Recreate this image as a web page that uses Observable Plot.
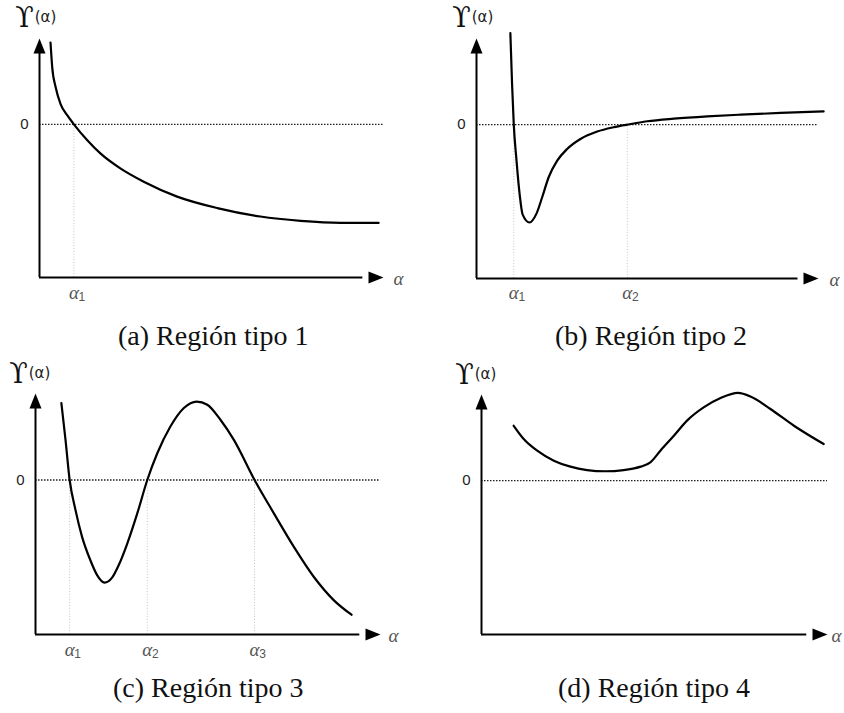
<!DOCTYPE html>
<html>
<head>
<meta charset="utf-8">
<script src="https://cdn.jsdelivr.net/npm/d3@7"></script>
<script src="https://cdn.jsdelivr.net/npm/@observablehq/plot@0.6"></script>
<style>
  body { margin: 0; background: #fff; }
  #fig { position: relative; width: 844px; height: 713px; overflow: hidden; background: #fff; }
  .panel { position: absolute; }
  .cap {
    position: absolute;
    font-family: "Liberation Serif", "Times New Roman", serif;
    font-size: 28px;
    line-height: 28px;
    color: #111;
    white-space: nowrap;
  }
</style>
</head>
<body>
<div id="fig"></div>
<script>
// Υ(α) sketches for the four region types. α runs 0–100 along each axis,
// Υ runs from −100 (the α axis) to 56 (top of the Υ axis).

// (a) Región tipo 1 — monotone decreasing, one root
const alphaA = [3.2, 3.7, 4.7, 6.1, 8.1, 10.0, 13.9, 17.7, 23.5, 30.3, 40.0, 51.7, 64.2, 75.9, 87.5, 98.6];
const upsilonA = [53.4, 37.2, 24.2, 13.4, 5.8, 0, -10.4, -19.0, -28.8, -37.5, -47.2, -54.7, -60.2, -63.0, -64.3, -64.3];
const rootsA = [10.0];
const subsA = ["1"];

// (b) Región tipo 2 — sharp dip, two roots, then a slow rise
const alphaB = [9.9, 10.4, 10.9, 11.7, 12.6, 13.5, 15.5, 17.5, 19.2, 21.1, 23.6, 26.5, 30.4, 35.3, 40.1, 44.1, 49.9, 57.7, 67.5, 77.2, 88.9, 101.5];
const upsilonB = [59.5, 26.4, 0, -23.4, -45.0, -58.5, -63.6, -58.0, -47.2, -34.2, -23.4, -15.8, -9.3, -4.5, -1.7, 0, 2.2, 3.9, 5.4, 6.5, 7.6, 8.6];
const rootsB = [10.9, 44.1];
const subsB = ["1", "2"];

// (c) Región tipo 3 — minimum, maximum, three roots
const alphaC = [7.5, 8.7, 9.9, 11.6, 13.5, 15.9, 17.9, 20.0, 22.2, 24.1, 26.6, 29.5, 32.4, 35.3, 39.1, 43.0, 46.7, 49.8, 53.6, 57.5, 63.5, 69.1, 74.9, 80.7, 86.5, 91.6];
const upsilonC = [49.8, 26.0, 0, -19.5, -36.8, -51.9, -61.7, -66.4, -63.2, -55.2, -41.1, -21.6, 0, 17.3, 34.6, 46.6, 50.8, 48.7, 39.0, 26.0, 0, -21.6, -43.3, -62.8, -77.9, -87.2];
const rootsC = [9.9, 32.4, 63.5];
const subsC = ["1", "2", "3"];

// (d) Región tipo 4 — always positive, no roots
const alphaD = [9.3, 12.2, 16.1, 20.9, 25.7, 30.5, 35.8, 41.1, 46.0, 48.8, 51.7, 55.6, 59.4, 64.2, 69.1, 74.1, 77.9, 83.5, 90.3, 98.9];
const upsilonD = [35.7, 27.1, 19.5, 13.0, 9.1, 6.9, 6.1, 6.9, 9.1, 11.9, 19.5, 29.2, 39.0, 47.6, 53.7, 57.0, 54.5, 46.6, 35.7, 23.8];
const rootsD = [];
const subsD = [];

const captions = ["(a) Región tipo 1", "(b) Región tipo 2", "(c) Región tipo 3", "(d) Región tipo 4"];

const Y_MIN = -100, Y_MAX = 56, X_MAX = 100;

// Filled arrowheads whose tip sits on the anchor point
const headUp = {
  draw(ctx, size) {
    const r = Math.sqrt(size / Math.PI);
    ctx.moveTo(0, 0);
    ctx.lineTo(0.8 * r, 2 * r);
    ctx.lineTo(-0.8 * r, 2 * r);
    ctx.closePath();
  }
};
const headRight = {
  draw(ctx, size) {
    const r = Math.sqrt(size / Math.PI);
    ctx.moveTo(0, 0);
    ctx.lineTo(-2 * r, -0.8 * r);
    ctx.lineTo(-2 * r, 0.8 * r);
    ctx.closePath();
  }
};

function panel(cfg) {
  const pts = cfg.alpha.map((a, i) => ({a, u: cfg.upsilon[i]}));
  const marks = [
    // dotted zero level
    Plot.ruleY([0], {x1: 0, x2: X_MAX, stroke: "#1e1e1e", strokeWidth: 1.3, strokeDasharray: "1.5,1.5"}),
    // faint drop lines from each root to the α axis
    Plot.ruleX(cfg.roots, {y1: Y_MIN, y2: 0, stroke: "#c4c4c4", strokeWidth: 1, strokeDasharray: "1,1.8"}),
    // axes
    Plot.ruleX([0], {y1: Y_MIN, y2: Y_MAX - 6, stroke: "#000", strokeWidth: 2}),
    Plot.ruleY([Y_MIN], {x1: 0, x2: X_MAX - 6, stroke: "#000", strokeWidth: 2}),
    Plot.dot([0], {x: 0, y: Y_MAX, r: 7.5, symbol: headUp, fill: "#000", stroke: "none"}),
    Plot.dot([0], {x: X_MAX, y: Y_MIN, r: 7.5, symbol: headRight, fill: "#000", stroke: "none"}),
    // the curve
    Plot.line(pts, {x: "a", y: "u", curve: "monotone-x", stroke: "#000", strokeWidth: 2.2}),
    // "0" tick label
    Plot.text(["0"], {x: 0, y: 0, dx: -11, textAnchor: "end", lineAnchor: "middle",
      fontFamily: "Liberation Sans, Arial, sans-serif", fontSize: 15, fill: "#222"}),
    // Υ(α) axis title
    Plot.text(["ϒ"], {x: 0, y: Y_MAX, dx: cfg.titleDx, dy: cfg.titleDy, textAnchor: "middle", lineAnchor: "middle",
      fontFamily: "DejaVu Serif, serif", fontSize: 27, fill: "#111"}),
    Plot.text(["(α)"], {x: 0, y: Y_MAX, dx: cfg.titleDx + 21, dy: cfg.titleDy - 1, textAnchor: "middle", lineAnchor: "middle",
      fontFamily: "DejaVu Sans, sans-serif", fontSize: 15, fill: "#222"}),
    // α axis title
    Plot.text(["α"], {x: X_MAX, y: Y_MIN, dx: cfg.axisDx, dy: 1, textAnchor: "start", lineAnchor: "middle",
      fontFamily: "Liberation Serif, serif", fontStyle: "italic", fontSize: 19, fill: "#555"}),
    // root labels α₁, α₂, α₃
    Plot.text(cfg.roots, {x: d => d, y: Y_MIN, dx: 0, dy: cfg.rootDy, text: () => "α", textAnchor: "middle", lineAnchor: "middle",
      fontFamily: "Liberation Serif, serif", fontStyle: "italic", fontSize: 19, fill: "#555"}),
    Plot.text(cfg.subs, {x: (d, i) => cfg.roots[i], y: Y_MIN, dx: 8, dy: cfg.rootDy + 5, textAnchor: "middle", lineAnchor: "middle",
      fontFamily: "Liberation Sans, Arial, sans-serif", fontSize: 12, fill: "#555"})
  ];
  const svg = Plot.plot({
    width: cfg.width,
    height: cfg.height,
    marginLeft: cfg.ml,
    marginRight: cfg.mr,
    marginTop: cfg.mt,
    marginBottom: cfg.mb,
    x: {domain: [0, X_MAX], axis: null},
    y: {domain: [Y_MIN, Y_MAX], axis: null},
    marks
  });
  svg.classList.add("panel");
  svg.style.left = cfg.left + "px";
  svg.style.top = cfg.top + "px";
  return svg;
}

const fig = document.getElementById("fig");

const configs = [
  {alpha: alphaA, upsilon: upsilonA, roots: rootsA, subs: subsA, left: 0, top: 0, width: 422, height: 310,
   ml: 39, mr: 39, mt: 38, mb: 33, titleDx: -15, titleDy: -20, axisDx: 10, rootDy: 15,
   cap: {left: 118, top: 322}},
  {alpha: alphaB, upsilon: upsilonB, roots: rootsB, subs: subsB, left: 422, top: 0, width: 422, height: 310,
   ml: 54, mr: 26, mt: 38, mb: 32, titleDx: -15, titleDy: -20, axisDx: 11, rootDy: 14,
   cap: {left: 555, top: 322}},
  {alpha: alphaC, upsilon: upsilonC, roots: rootsC, subs: subsC, left: 0, top: 340, width: 422, height: 330,
   ml: 35, mr: 42, mt: 53, mb: 36, titleDx: -17, titleDy: -19, axisDx: 8, rootDy: 15,
   cap: {left: 113, top: 674}},
  {alpha: alphaD, upsilon: upsilonD, roots: rootsD, subs: subsD, left: 422, top: 340, width: 422, height: 330,
   ml: 59, mr: 17, mt: 54, mb: 36, titleDx: -17, titleDy: -19, axisDx: 4, rootDy: 15,
   cap: {left: 558, top: 674}}
];

configs.forEach((cfg, k) => {
  fig.appendChild(panel(cfg));
  const cap = document.createElement("div");
  cap.className = "cap";
  cap.textContent = captions[k];
  cap.style.left = cfg.cap.left + "px";
  cap.style.top = cfg.cap.top + "px";
  fig.appendChild(cap);
});
</script>
</body>
</html>
